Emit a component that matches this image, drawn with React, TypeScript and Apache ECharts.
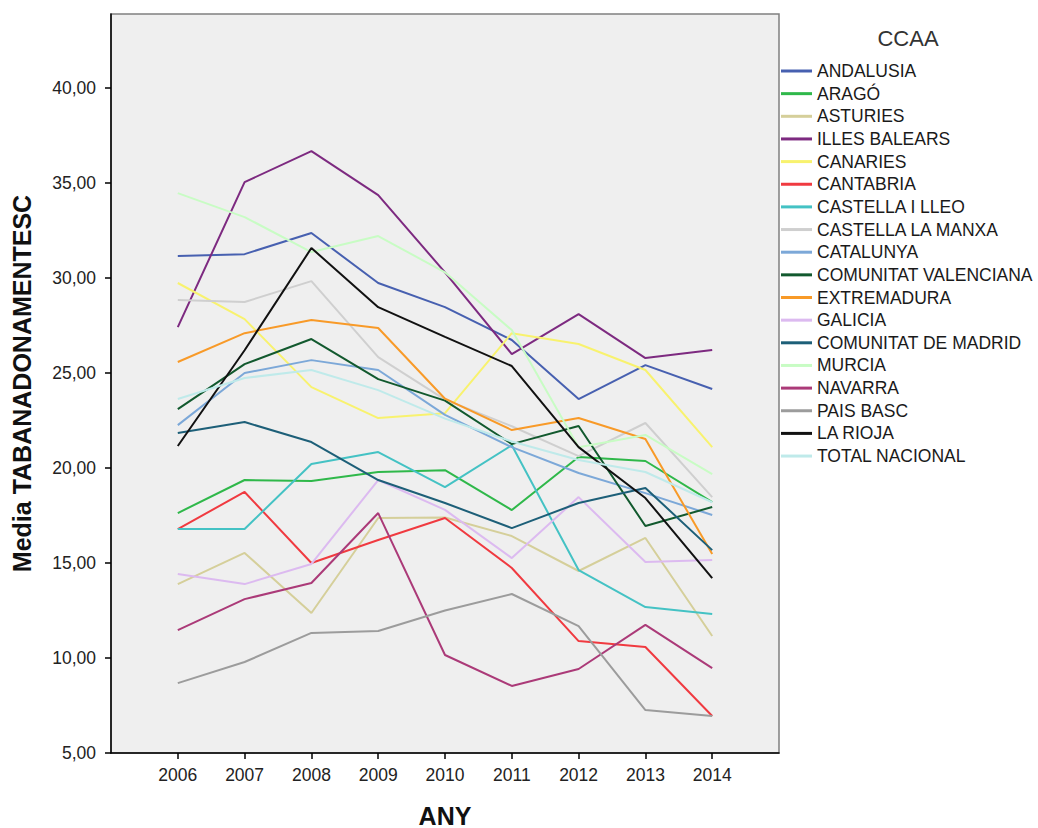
import React, { useEffect, useRef } from "react";
import * as echarts from "echarts";

const years = [2006, 2007, 2008, 2009, 2010, 2011, 2012, 2013, 2014];
const yTicks = [5, 10, 15, 20, 25, 30, 35, 40];

const andalusia = [31.16, 31.26, 32.37, 29.74, 28.47, 26.74, 23.63, 25.42, 24.16];
const arago = [17.63, 19.37, 19.32, 19.79, 19.89, 17.79, 20.58, 20.37, 18.21];
const asturies = [13.89, 15.53, 12.37, 17.37, 17.4, 16.42, 14.58, 16.32, 11.16];
const illesBalears = [27.42, 35.05, 36.68, 34.37, 30.3, 26.0, 28.1, 25.79, 26.21];
const canaries = [29.74, 27.84, 24.26, 22.63, 22.89, 27.1, 26.53, 25.16, 21.1];
const cantabria = [16.79, 18.74, 15.0, 16.21, 17.37, 14.74, 10.89, 10.58, 6.95];
const castellaILleo = [16.79, 16.79, 20.21, 20.84, 19.0, 21.2, 14.63, 12.68, 12.32];
const castellaLaManxa = [28.84, 28.74, 29.84, 25.84, 23.6, 22.2, 20.63, 22.37, 18.47];
const catalunya = [22.26, 25.0, 25.68, 25.16, 22.8, 21.1, 19.74, 18.68, 17.53];
const valenciana = [23.1, 25.47, 26.79, 24.68, 23.55, 21.26, 22.21, 16.95, 17.95];
const extremadura = [25.58, 27.1, 27.79, 27.37, 23.65, 22.0, 22.63, 21.53, 15.47];
const galicia = [14.42, 13.89, 14.95, 19.37, 17.8, 15.26, 18.47, 15.05, 15.16];
const madrid = [21.84, 22.42, 21.37, 19.37, 18.16, 16.84, 18.16, 18.95, 15.68];
const murcia = [34.47, 33.21, 31.37, 32.21, 30.3, 27.26, 21.1, 21.74, 19.68];
const navarra = [11.47, 13.1, 13.95, 17.63, 10.16, 8.53, 9.42, 11.74, 9.47];
const paisBasc = [8.68, 9.79, 11.32, 11.42, 12.5, 13.37, 11.68, 7.26, 6.95];
const laRioja = [21.16, 26.2, 31.58, 28.47, 26.9, 25.37, 21.1, 18.42, 14.21];
const totalNacional = [23.63, 24.74, 25.16, 24.1, 22.6, 21.4, 20.42, 19.79, 18.2];

const seriesDefs: { name: string; data: number[]; color: string }[] = [
  { name: "ANDALUSIA", data: andalusia, color: "#4760b0" },
  { name: "ARAGÓ", data: arago, color: "#2fb84a" },
  { name: "ASTURIES", data: asturies, color: "#d5cf9a" },
  { name: "ILLES BALEARS", data: illesBalears, color: "#7d2a80" },
  { name: "CANARIES", data: canaries, color: "#f8f26e" },
  { name: "CANTABRIA", data: cantabria, color: "#f03a40" },
  { name: "CASTELLA I LLEO", data: castellaILleo, color: "#44c2c4" },
  { name: "CASTELLA LA MANXA", data: castellaLaManxa, color: "#cfcfcf" },
  { name: "CATALUNYA", data: catalunya, color: "#7ca8d8" },
  { name: "COMUNITAT VALENCIANA", data: valenciana, color: "#12592e" },
  { name: "EXTREMADURA", data: extremadura, color: "#f89a28" },
  { name: "GALICIA", data: galicia, color: "#dcbaf0" },
  { name: "COMUNITAT DE MADRID", data: madrid, color: "#1d5f78" },
  { name: "MURCIA", data: murcia, color: "#c8fcc4" },
  { name: "NAVARRA", data: navarra, color: "#ab3a78" },
  { name: "PAIS BASC", data: paisBasc, color: "#9c9c9c" },
  { name: "LA RIOJA", data: laRioja, color: "#111111" },
  { name: "TOTAL NACIONAL", data: totalNacional, color: "#bfeaea" },
];

const FONT = "'Liberation Sans', Arial, sans-serif";

export default function App() {
  const ref = useRef<HTMLDivElement>(null);
  useEffect(() => {
    if (!ref.current) return;
    const chart = echarts.init(ref.current, undefined, { renderer: "svg" });
    chart.setOption({
      animation: false,
      backgroundColor: "#ffffff",
      textStyle: { fontFamily: FONT },
      grid: {
        left: 111,
        top: 14,
        right: 259,
        bottom: 75,
        show: true,
        backgroundColor: "#efefef",
        borderColor: "#808080",
        borderWidth: 1.5,
        outerBoundsMode: "none",
        containLabel: false,
      },
      graphic: [
        {
          type: "text",
          x: 908,
          y: 38,
          style: {
            text: "CCAA",
            fontFamily: FONT,
            fontSize: 22,
            fill: "#333333",
            align: "center",
            verticalAlign: "middle",
          },
        },
      ],
      legend: {
        orient: "vertical",
        left: 781,
        top: 61,
        padding: 0,
        icon: "rect",
        itemWidth: 31,
        itemHeight: 3,
        itemGap: 2.65,
        textStyle: { fontFamily: FONT, fontSize: 17.5, color: "#1a1a1a", lineHeight: 20 },
        data: seriesDefs.map((s) => s.name),
      },
      xAxis: {
        type: "value",
        min: 2005,
        max: 2015,
        name: "ANY",
        nameLocation: "middle",
        nameGap: 50,
        nameTextStyle: { fontFamily: FONT, fontSize: 25, fontWeight: "bold", color: "#111" },
        axisLine: { show: true, onZero: false, lineStyle: { color: "#000", width: 1.5 } },
        axisTick: { show: true, length: 6, customValues: years, lineStyle: { color: "#000", width: 1.5 } },
        axisLabel: {
          customValues: years,
          formatter: (v: number) => String(v),
          fontFamily: FONT,
          fontSize: 17.5,
          color: "#222",
          margin: 13,
        },
        splitLine: { show: false },
      },
      yAxis: {
        type: "value",
        min: 5,
        max: 43.9,
        name: "Media TABANADONAMENTESC",
        nameLocation: "middle",
        nameGap: 77,
        nameTextStyle: { fontFamily: FONT, fontSize: 25, fontWeight: "bold", color: "#111" },
        axisLine: { show: true, onZero: false, lineStyle: { color: "#000", width: 1.5 } },
        axisTick: { show: true, length: 6, customValues: yTicks, lineStyle: { color: "#000", width: 1.5 } },
        axisLabel: {
          customValues: yTicks,
          formatter: (v: number) => v.toFixed(2).replace(".", ","),
          fontFamily: FONT,
          fontSize: 17.5,
          color: "#222",
          margin: 15,
        },
        splitLine: { show: false },
      },
      series: seriesDefs.map((s) => ({
        name: s.name,
        type: "line",
        data: years.map((y, i) => [y, s.data[i]]),
        symbol: "none",
        color: s.color,
        lineStyle: { color: s.color, width: 2 },
        itemStyle: { color: s.color },
      })),
    });
    return () => chart.dispose();
  }, []);
  return (
    <div
      ref={ref}
      style={{ position: "fixed", left: 0, top: 0, width: 1038, height: 828 }}
    />
  );
}
